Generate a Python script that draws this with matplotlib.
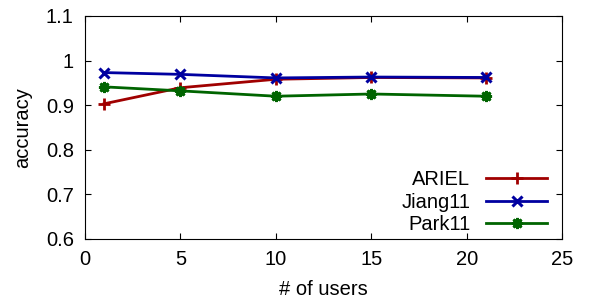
"""
plot.py: accuracy vs number of users for ARIEL, Jiang11 and Park11.
"""

import matplotlib
matplotlib.use("Agg")
import matplotlib.pyplot as plt
from matplotlib.ticker import FormatStrFormatter

plt.rcParams['font.family'] = ['Liberation Sans', 'DejaVu Sans']

# Data
users = [1, 5, 10, 15, 21]
ariel = [0.903, 0.939, 0.958, 0.962, 0.961]
jiang11 = [0.973, 0.969, 0.961, 0.963, 0.962]
park11 = [0.941, 0.932, 0.920, 0.925, 0.920]

x_ticks = [0, 5, 10, 15, 20, 25]
y_ticks = [0.6, 0.7, 0.8, 0.9, 1.0, 1.1]

fig = plt.figure(figsize=(5.98, 3.06), dpi=100)
ax = fig.add_axes([0.142, 0.219, 0.798, 0.729])

ax.plot(users, ariel, color="#a00000", lw=2, marker="+", ms=8, mew=2, label="ARIEL")
ax.plot(users, jiang11, color="#0000a0", lw=2, marker="x", ms=7, mew=2.2, label="Jiang11")
ax.plot(users, park11, color="#006400", lw=2, marker=(8, 2, 0), ms=8, mew=2, label="Park11")

ax.set_xlim(0, 25)
ax.set_ylim(0.6, 1.1)
ax.set_xticks(x_ticks)
ax.set_yticks(y_ticks)
ax.yaxis.set_major_formatter(FormatStrFormatter('%g'))
ax.tick_params(direction="in", top=True, right=True, labelsize=14.5, length=4, pad=8)

ax.set_xlabel("# of users", fontsize=14.5, labelpad=8)
ax.set_ylabel("accuracy", fontsize=14.5, labelpad=10)

ax.legend(loc="lower right", frameon=False, markerfirst=False, fontsize=14.5,
          handlelength=3.0, handletextpad=0.8, labelspacing=0.18,
          borderaxespad=0.0, bbox_to_anchor=(0.985, -0.015))

fig.savefig("out.png", dpi=100)
